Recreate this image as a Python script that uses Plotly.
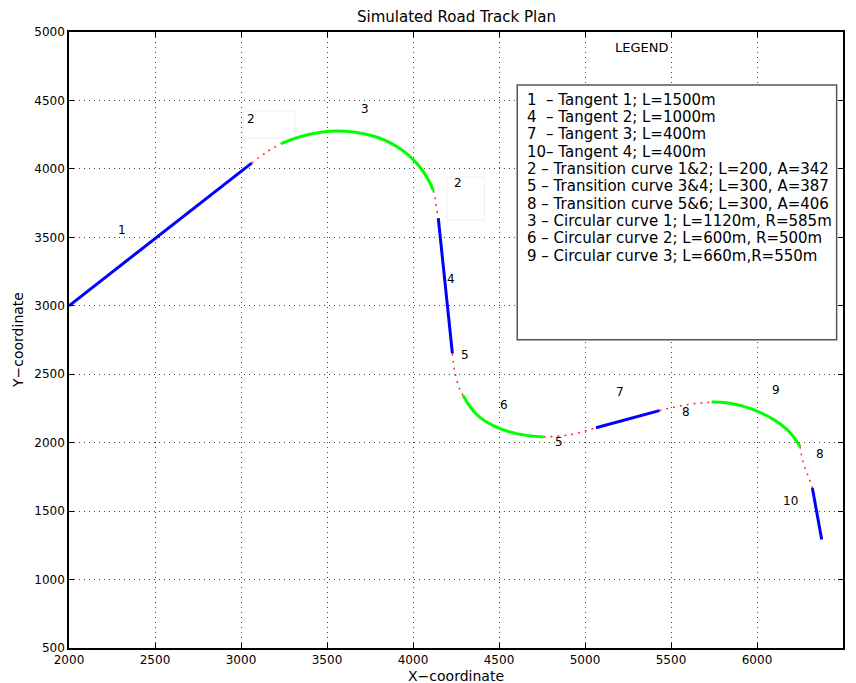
import plotly.graph_objects as go

# ---------------- data ----------------
# Tangents (straight, blue)
tan1_x = [2000, 3062]
tan1_y = [3000, 4042]
tan2_x = [4147, 4229]
tan2_y = [3640, 2652]
tan3_x = [5064, 5432]
tan3_y = [2109, 2234]
tan4_x = [6322, 6376]
tan4_y = [1669, 1292]

# Transition curves (red dotted)
tr1_x = [3062, 3140, 3233]
tr1_y = [4042, 4115, 4185]
tr2_x = [4118, 4129, 4137, 4147]
tr2_y = [3842, 3786, 3713, 3640]
tr3_x = [4229, 4244, 4273, 4292]
tr3_y = [2652, 2509, 2387, 2343]
tr4_x = [4758, 4913, 5064]
tr4_y = [2042, 2058, 2109]
tr5_x = [5432, 5590, 5736]
tr5_y = [2234, 2277, 2297]
tr6_x = [6250, 6269, 6298, 6322]
tr6_y = [1973, 1852, 1754, 1669]

# Circular curves (green)
cc1_x = [3233, 3382, 3556, 3769, 3905, 4021, 4089, 4118]
cc1_y = [4185, 4248, 4277, 4240, 4163, 4042, 3920, 3842]
cc2_x = [4292, 4370, 4467, 4602, 4758]
cc2_y = [2343, 2206, 2124, 2066, 2042]
cc3_x = [5736, 5833, 5959, 6095, 6182, 6250]
cc3_y = [2297, 2290, 2250, 2170, 2087, 1973]

# Element labels on the plan
label_text = ["1", "2", "3", "2", "4", "5", "6", "5", "7", "8", "9", "8", "10"]
label_x = [2308, 3058, 3721, 4262, 4221, 4302, 4529, 4849, 5203, 5587, 6110, 6366, 6192]
label_y = [3555, 4365, 4438, 3898, 3197, 2642, 2277, 2007, 2372, 2226, 2387, 1920, 1577]

legend_lines = [
    "1  – Tangent 1; L=1500m",
    "4  – Tangent 2; L=1000m",
    "7  – Tangent 3; L=400m",
    "10– Tangent 4; L=400m",
    "2 – Transition curve 1&2; L=200, A=342",
    "5 – Transition curve 3&4; L=300, A=387",
    "8 – Transition curve 5&6; L=300, A=406",
    "3 – Circular curve 1; L=1120m, R=585m",
    "6 – Circular curve 2; L=600m, R=500m",
    "9 – Circular curve 3; L=660m,R=550m",
]

x_ticks = [2000, 2500, 3000, 3500, 4000, 4500, 5000, 5500, 6000, 6500]
y_ticks = [500, 1000, 1500, 2000, 2500, 3000, 3500, 4000, 4500, 5000]

# ---------------- figure ----------------
FONT = "DejaVu Sans, Verdana, sans-serif"
fig = go.Figure()

for xs, ys in [(tr1_x, tr1_y), (tr2_x, tr2_y), (tr3_x, tr3_y),
               (tr4_x, tr4_y), (tr5_x, tr5_y), (tr6_x, tr6_y)]:
    fig.add_trace(go.Scatter(x=xs, y=ys, mode="lines", showlegend=False,
                             hoverinfo="skip",
                             line=dict(color="#ff3030", width=1.6,
                                       dash="2px,5px", shape="spline")))

for xs, ys in [(cc1_x, cc1_y), (cc2_x, cc2_y), (cc3_x, cc3_y)]:
    fig.add_trace(go.Scatter(x=xs, y=ys, mode="lines", showlegend=False,
                             line=dict(color="#00ff00", width=3,
                                       shape="spline", smoothing=1.2)))

for xs, ys in [(tan1_x, tan1_y), (tan2_x, tan2_y), (tan3_x, tan3_y),
               (tan4_x, tan4_y)]:
    fig.add_trace(go.Scatter(x=xs, y=ys, mode="lines", showlegend=False,
                             line=dict(color="#0000ff", width=3)))

annotations = []
for t, x, y in zip(label_text, label_x, label_y):
    annotations.append(dict(x=x, y=y, xref="x", yref="y", text=t,
                            showarrow=False,
                            font=dict(family=FONT, size=12, color="black")))

# faint boxes around the two "2" labels
shapes = [
    dict(type="rect", xref="x", yref="y", x0=3012, x1=3314, y0=4226, y1=4423,
         line=dict(color="#f0f0f0", width=1), layer="below"),
    dict(type="rect", xref="x", yref="y", x0=4196, x1=4415, y0=3625, y1=3941,
         line=dict(color="#f0f0f0", width=1), layer="below"),
    # legend box
    dict(type="rect", xref="x", yref="y", x0=4606, x1=6463, y0=2752, y1=4613,
         line=dict(color="#555555", width=1.5), fillcolor="white", layer="above"),
]

annotations.append(dict(x=5331, y=4890, xref="x", yref="y", text="LEGEND",
                        showarrow=False,
                        font=dict(family=FONT, size=13, color="black")))

for i, line in enumerate(legend_lines):
    annotations.append(dict(x=4651, y=4504 - 126.3 * i, xref="x", yref="y",
                            text=line, showarrow=False, xanchor="left",
                            yanchor="middle",
                            font=dict(family=FONT, size=15, color="black")))

# titles
annotations.append(dict(x=0.5, y=1, xref="paper", yref="paper",
                        text="Simulated Road Track Plan", showarrow=False,
                        yanchor="middle", yshift=15,
                        font=dict(family=FONT, size=15, color="black")))
annotations.append(dict(x=0.5, y=0, xref="paper", yref="paper",
                        text="X−coordinate", showarrow=False,
                        yanchor="middle", yshift=-28,
                        font=dict(family=FONT, size=14, color="black")))
annotations.append(dict(x=0, y=0.5, xref="paper", yref="paper",
                        text="Y−coordinate", showarrow=False, textangle=-90,
                        xanchor="center", xshift=-51,
                        font=dict(family=FONT, size=14, color="black")))

axis_common = dict(
    showgrid=True, gridcolor="#444444", gridwidth=1, griddash="1px,4px",
    zeroline=False, showline=True, linecolor="black", linewidth=1.5,
    mirror="ticks", ticks="inside", ticklen=5, tickcolor="black",
    tickfont=dict(family=FONT, size=12, color="black"),
)

fig.update_xaxes(range=[2000, 6500], tickvals=x_ticks,
                 ticktext=[str(v) for v in x_ticks], **axis_common)
fig.update_yaxes(range=[500, 5000], tickvals=y_ticks,
                 ticktext=[str(v) for v in y_ticks], **axis_common)

# the page shows the figure with an 8px body margin, so size/margins
# are chosen to put the plot area where the reference has it
fig.update_layout(
    width=848, height=675,
    margin=dict(l=61, r=13, t=24, b=35),
    plot_bgcolor="white", paper_bgcolor="white",
    showlegend=False,
    annotations=annotations,
    shapes=shapes,
    font=dict(family=FONT, color="black"),
)

fig.write_html("out.html")
